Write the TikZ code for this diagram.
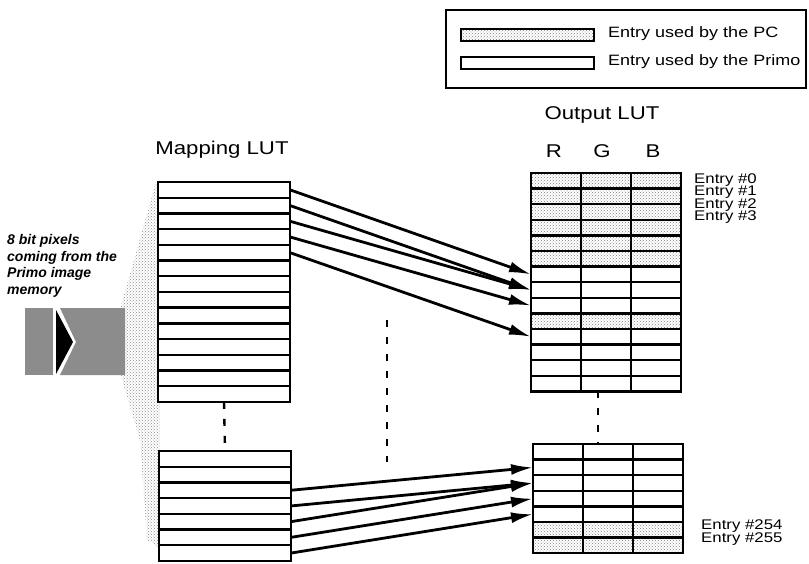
\documentclass[tikz,border=0pt]{standalone}
\usepackage{fontspec}
\setmainfont{Liberation Sans}
\newfontfamily\widefont[FakeStretch=1.2]{Liberation Sans}
\usetikzlibrary{arrows.meta,patterns}

\begin{document}
\begin{tikzpicture}[x=1pt,y=-1pt,
  maprow/.style={draw,fill=white,line width=2.4pt,minimum width=132pt,minimum height=15.7pt,inner sep=0pt,outer sep=0pt},
  outrow/.style={draw,fill=white,line width=2.4pt,minimum width=150pt,minimum height=15.6pt,inner sep=0pt,outer sep=0pt},
  pcrow/.style={outrow,pattern=crosshatch dots,pattern color=black!50},
  colline/.style={line width=2.4pt},
  gapline/.style={line width=2.4pt,dash pattern=on 7pt off 10pt},
  maparrow/.style={line width=2.8pt,-{Latex[length=22pt,width=11pt]}},
  labeltext/.style={font=\widefont\fontsize{18.5}{20}\selectfont,inner sep=0pt},
  entrytext/.style={font=\widefont\fontsize{14}{14}\selectfont,anchor=west,inner sep=0pt},
  legendtext/.style={font=\widefont\fontsize{15}{17}\selectfont,anchor=west,inner sep=0pt},
  infotext/.style={font=\bfseries\itshape\fontsize{14}{16.7}\selectfont,align=left,anchor=north west,inner sep=0pt},
  inputgrey/.style={fill=black!45}]

\useasboundingbox (0,0) rectangle (809,563);

\node[draw,line width=1.8pt,minimum width=360pt,minimum height=78pt,inner sep=0pt] (legend) at (626,49) {};
\node[draw,line width=2.4pt,minimum width=133pt,minimum height=12pt,inner sep=0pt,pattern=crosshatch dots,pattern color=black!50] (pcswatch) at (527.5,35) {};
\node[draw,line width=1.6pt,minimum width=133pt,minimum height=12pt,inner sep=0pt] (primoswatch) at (527.5,63) {};
\node[legendtext] (pclabel) at (608,34) {Entry used by the PC};
\node[legendtext] (primolabel) at (608,62) {Entry used by the Primo};

\node[infotext] (pixeltext) at (7,234) {8 bit pixels\\coming from the\\Primo image\\memory};

\fill[pattern=crosshatch dots,pattern color=black!45] (156,182) -- (121,306) -- (121,376) -- (140,440) -- (147,540) -- (160,548) -- (160,182) -- cycle;
\fill[inputgrey] (25,308) rectangle (53,375);
\fill (56,310) -- (73,342) -- (56,374) -- cycle;
\fill[inputgrey] (60,308) -- (125,308) -- (125,375) -- (60,375) -- (76,342) -- cycle;

\node[labeltext] (maptitle) at (222,150) {Mapping LUT};
\node[labeltext] (outtitle) at (602,115) {Output LUT};
\node[labeltext] (rlabel) at (554,151) {R};
\node[labeltext] (glabel) at (602,151) {G};
\node[labeltext] (blabel) at (653,151) {B};

\node[maprow] (map1) at (224,189.85) {};
\node[maprow] (map2) at (224,205.55) {};
\node[maprow] (map3) at (224,221.25) {};
\node[maprow] (map4) at (224,236.95) {};
\node[maprow] (map5) at (224,252.65) {};
\node[maprow] (map6) at (224,268.35) {};
\node[maprow] (map7) at (224,284.05) {};
\node[maprow] (map8) at (224,299.75) {};
\node[maprow] (map9) at (224,315.45) {};
\node[maprow] (map10) at (224,331.15) {};
\node[maprow] (map11) at (224,346.85) {};
\node[maprow] (map12) at (224,362.55) {};
\node[maprow] (map13) at (224,378.25) {};
\node[maprow] (map14) at (224,393.95) {};

\node[maprow] (mapb1) at (225,458.85) {};
\node[maprow] (mapb2) at (225,474.55) {};
\node[maprow] (mapb3) at (225,490.25) {};
\node[maprow] (mapb4) at (225,505.95) {};
\node[maprow] (mapb5) at (225,521.65) {};
\node[maprow] (mapb6) at (225,537.35) {};
\node[maprow] (mapb7) at (225,553.05) {};

\node[pcrow] (out1) at (606,180.8) {};
\node[pcrow] (out2) at (606,196.4) {};
\node[pcrow] (out3) at (606,212) {};
\node[pcrow] (out4) at (606,227.6) {};
\node[pcrow] (out5) at (606,243.2) {};
\node[pcrow] (out6) at (606,258.8) {};
\node[outrow] (out7) at (606,274.4) {};
\node[outrow] (out8) at (606,290) {};
\node[outrow] (out9) at (606,305.6) {};
\node[pcrow] (out10) at (606,321.2) {};
\node[outrow] (out11) at (606,336.8) {};
\node[outrow] (out12) at (606,352.4) {};
\node[outrow] (out13) at (606,368) {};
\node[outrow] (out14) at (606,383.6) {};
\draw[colline] ([xshift=50pt]out1.north west) -- ([xshift=50pt]out14.south west);
\draw[colline] ([xshift=100pt]out1.north west) -- ([xshift=100pt]out14.south west);

\node[outrow] (outb1) at (608,451.8) {};
\node[outrow] (outb2) at (608,467.4) {};
\node[outrow] (outb3) at (608,483) {};
\node[outrow] (outb4) at (608,498.6) {};
\node[outrow] (outb5) at (608,514.2) {};
\node[pcrow] (outb6) at (608,529.8) {};
\node[pcrow] (outb7) at (608,545.4) {};
\draw[colline] ([xshift=50pt]outb1.north west) -- ([xshift=50pt]outb7.south west);
\draw[colline] ([xshift=100pt]outb1.north west) -- ([xshift=100pt]outb7.south west);

\node[entrytext] (entry0) at (694,180) {Entry \#0};
\node[entrytext] (entry1) at (694,192.5) {Entry \#1};
\node[entrytext] (entry2) at (694,205) {Entry \#2};
\node[entrytext] (entry3) at (694,217.5) {Entry \#3};
\node[entrytext] (entry254) at (701,526) {Entry \#254};
\node[entrytext] (entry255) at (701,539) {Entry \#255};

\draw[gapline] (map14.south) -- (mapb1.north);
\draw[gapline] ([xshift=-8pt]out14.south) -- ([xshift=-10pt]outb1.north);
\coordinate (midtop) at (387,320);
\coordinate (midbot) at (387,462);
\draw[gapline] (midtop) -- (midbot);

\draw[maparrow] (map1.east) -- (out7.west);
\draw[maparrow] (map2.east) -- (out8.west);
\draw[maparrow] (map3.east) -- (out8.west);
\draw[maparrow] (map4.east) -- (out9.west);
\draw[maparrow] (map5.east) -- (out11.west);

\draw[maparrow] (mapb3.east) -- (outb2.west);
\draw[maparrow] (mapb4.east) -- (outb3.west);
\draw[maparrow] (mapb5.east) -- (outb3.west);
\draw[maparrow] (mapb6.east) -- (outb4.west);
\draw[maparrow] (mapb7.east) -- (outb5.west);
\end{tikzpicture}
\end{document}
